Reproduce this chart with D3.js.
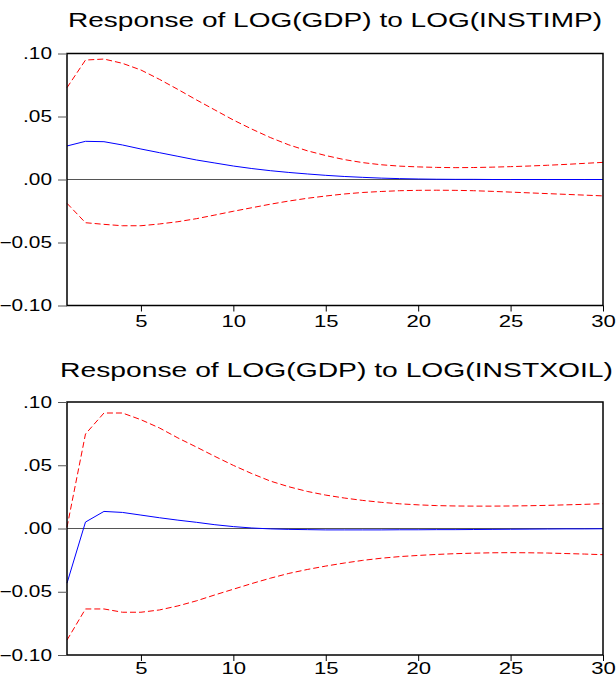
<!DOCTYPE html>
<html><head><meta charset="utf-8">
<script src="https://cdn.jsdelivr.net/npm/d3@7"></script>
<style>body{margin:0;background:#fff}svg{display:block}text{font-family:"Liberation Sans",Arial,sans-serif}</style>
</head><body>
<svg id="c" width="616" height="677"></svg>
<script>
const periods = d3.range(1, 31);
const titles = ["Response of LOG(GDP) to LOG(INSTIMP)", "Response of LOG(GDP) to LOG(INSTXOIL)"];
const yTicks = [-0.10, -0.05, 0.00, 0.05, 0.10];
const xTicks = [5, 10, 15, 20, 25, 30];

const imp_resp = [0.0266,0.0303,0.0300,0.0274,0.0242,0.0213,0.0184,0.0155,0.0131,0.0107,0.0087,0.0070,0.0056,0.0044,0.0033,0.0024,0.0017,0.0011,0.0007,0.0004,0.0002,0.0001,0.0001,0.0000,0.0000,0.0000,0.0000,0.0000,0.0000,0.0000];
const imp_upper = [0.0729,0.0948,0.0956,0.0922,0.0869,0.0795,0.0715,0.0632,0.0552,0.0472,0.0400,0.0333,0.0275,0.0228,0.0190,0.0158,0.0134,0.0117,0.0106,0.0100,0.0096,0.0094,0.0095,0.0098,0.0102,0.0107,0.0113,0.0120,0.0128,0.0136];
const imp_lower = [-0.0189,-0.0343,-0.0356,-0.0367,-0.0367,-0.0353,-0.0335,-0.0311,-0.0282,-0.0252,-0.0224,-0.0196,-0.0171,-0.0149,-0.0131,-0.0115,-0.0103,-0.0095,-0.0089,-0.0086,-0.0085,-0.0086,-0.0089,-0.0094,-0.0100,-0.0106,-0.0112,-0.0118,-0.0124,-0.0130];

const oil_resp = [-0.0432,0.0051,0.0135,0.0127,0.0106,0.0085,0.0066,0.0049,0.0030,0.0015,0.0004,-0.0003,-0.0007,-0.0009,-0.0011,-0.0011,-0.0011,-0.0011,-0.0010,-0.0010,-0.0009,-0.0009,-0.0008,-0.0007,-0.0006,-0.0005,-0.0004,-0.0003,-0.0003,-0.0002];
const oil_upper = [0.0010,0.0747,0.0913,0.0913,0.0860,0.0795,0.0716,0.0644,0.0570,0.0499,0.0434,0.0375,0.0330,0.0293,0.0264,0.0241,0.0222,0.0207,0.0195,0.0187,0.0181,0.0178,0.0177,0.0177,0.0178,0.0180,0.0183,0.0187,0.0191,0.0196];
const oil_lower = [-0.0882,-0.0636,-0.0636,-0.0662,-0.0662,-0.0644,-0.0612,-0.0572,-0.0525,-0.0480,-0.0435,-0.0393,-0.0355,-0.0324,-0.0297,-0.0273,-0.0252,-0.0235,-0.0222,-0.0213,-0.0205,-0.0199,-0.0195,-0.0192,-0.0191,-0.0192,-0.0194,-0.0198,-0.0202,-0.0207];

const panels = [
  {title: titles[0], resp: imp_resp, upper: imp_upper, lower: imp_lower, top: 53.5, bottom: 305.5, titleY: 27, titleX: 335, titleW: 534, pad: 3},
  {title: titles[1], resp: oil_resp, upper: oil_upper, lower: oil_lower, top: 402, bottom: 655, titleY: 377, titleX: 336.5, titleW: 553, pad: 1}
];

const svg = d3.select("#c");
const left = 67, right = 603;
const fmt = v => { const s = d3.format(".2f")(v); return s.replace(/^(-?)0\./, "$1."); };

function stretch(sel, f) {
  sel.each(function(){ const w = this.getComputedTextLength(); d3.select(this).attr("textLength", w*f).attr("lengthAdjust","spacingAndGlyphs"); });
}

panels.forEach(p => {
  const x = d3.scaleLinear().domain([1, 30]).range([left, right]);
  const y = d3.scaleLinear().domain([-0.1, 0.1]).range([p.bottom, p.top]);
  const g = svg.append("g");

  g.append("text").attr("x", p.titleX).attr("y", p.titleY).attr("text-anchor", "middle")
    .attr("font-size", 20).attr("fill", "#000").attr("textLength", p.titleW).attr("lengthAdjust", "spacingAndGlyphs").text(p.title);

  // zero line
  g.append("line").attr("x1", left).attr("x2", right).attr("y1", y(0)).attr("y2", y(0)).attr("stroke", "#555").attr("stroke-width", 1);

  const line = d3.line().x((d, i) => x(periods[i])).y(d => y(d));
  g.append("path").datum(p.upper).attr("d", line).attr("fill", "none").attr("stroke", "#ff0000").attr("stroke-width", 1).attr("stroke-dasharray", "6,3");
  g.append("path").datum(p.lower).attr("d", line).attr("fill", "none").attr("stroke", "#ff0000").attr("stroke-width", 1).attr("stroke-dasharray", "6,3");
  g.append("path").datum(p.resp).attr("d", line).attr("fill", "none").attr("stroke", "#0000ff").attr("stroke-width", 1);

  // frame
  g.append("rect").attr("x", left).attr("y", p.top).attr("width", right - left).attr("height", p.bottom - p.top)
    .attr("fill", "none").attr("stroke", "#000").attr("stroke-width", 1.5);

  const ya = g.append("g").attr("transform", `translate(${left},0)`)
    .call(d3.axisLeft(y).tickValues(yTicks).tickFormat(fmt).tickSize(9).tickPadding(6));
  ya.select(".domain").remove();
  ya.selectAll(".tick line").attr("stroke", "#555");
  ya.selectAll("text").attr("font-size", 16).attr("fill", "#000").attr("font-family", null).call(stretch, 1.3);

  const xa = g.append("g").attr("transform", `translate(0,${p.bottom})`)
    .call(d3.axisBottom(x).tickValues(xTicks).tickFormat(d3.format("d")).tickSize(6).tickPadding(p.pad));
  xa.select(".domain").remove();
  xa.selectAll(".tick line").attr("stroke", "#000");
  xa.selectAll("text").attr("font-size", 17).attr("fill", "#000").attr("font-family", null).call(stretch, 1.3);
});
</script>
</body></html>
